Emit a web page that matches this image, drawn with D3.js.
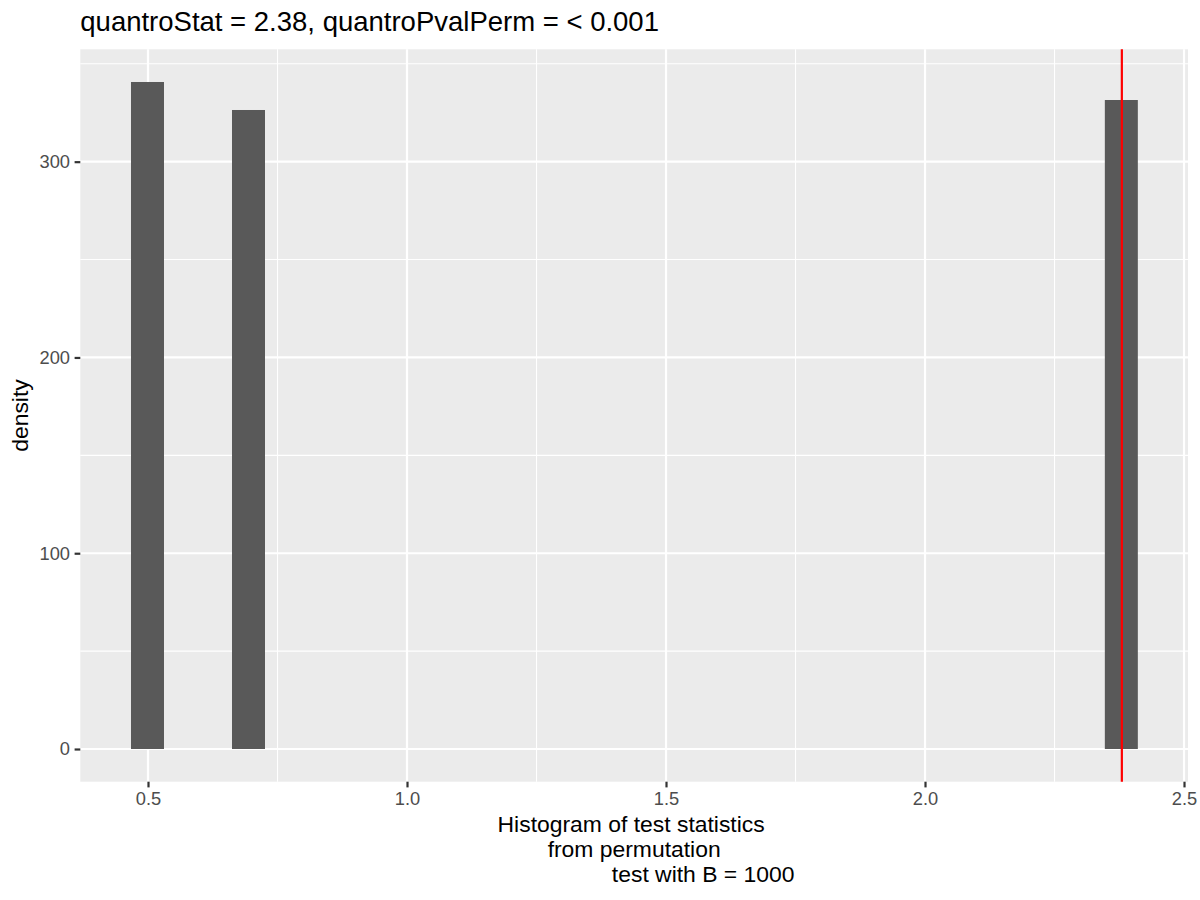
<!DOCTYPE html>
<html>
<head>
<meta charset="utf-8">
<script src="https://cdn.jsdelivr.net/npm/d3@7"></script>
<style>
  html, body { margin: 0; padding: 0; background: #fff; }
  svg { display: block; font-family: "Liberation Sans", Arial, sans-serif; }
</style>
</head>
<body>
<svg id="chart" width="1200" height="900"></svg>
<script>
// ---- data ----
const binCenters = [0.499, 0.694, 2.379];
const densities = [340.7, 326.4, 331.5];
const binWidth = 0.0637;
const quantroStat = 2.38;
const xTicks = [0.5, 1.0, 1.5, 2.0, 2.5];
const xMinorTicks = [0.75, 1.25, 1.75, 2.25];
const yTicks = [0, 100, 200, 300];
const yMinorTicks = [50, 150, 250, 350];
const titleText = "quantroStat = 2.38, quantroPvalPerm = < 0.001";
const xTitleLines = ["Histogram of test statistics", "from permutation", "test with B = 1000"];
const yTitle = "density";

// ---- layout ----
const svg = d3.select("#chart");
const panel = { left: 80.3, right: 1188, top: 49.3, bottom: 781.7 };

const x = d3.scaleLinear().domain([0.3693, 2.5077]).range([panel.left, panel.right]);
const y = d3.scaleLinear().domain([-16.7, 357.4]).range([panel.bottom, panel.top]);

// panel background
svg.append("rect")
  .attr("x", panel.left).attr("y", panel.top)
  .attr("width", panel.right - panel.left).attr("height", panel.bottom - panel.top)
  .attr("fill", "#EBEBEB");

// minor grid
svg.append("g").selectAll("line").data(xMinorTicks).join("line")
  .attr("x1", d => x(d)).attr("x2", d => x(d))
  .attr("y1", panel.top).attr("y2", panel.bottom)
  .attr("stroke", "#fff").attr("stroke-width", 1.1);
svg.append("g").selectAll("line").data(yMinorTicks).join("line")
  .attr("y1", d => y(d)).attr("y2", d => y(d))
  .attr("x1", panel.left).attr("x2", panel.right)
  .attr("stroke", "#fff").attr("stroke-width", 1.1);
// major grid
svg.append("g").selectAll("line").data(xTicks).join("line")
  .attr("x1", d => x(d)).attr("x2", d => x(d))
  .attr("y1", panel.top).attr("y2", panel.bottom)
  .attr("stroke", "#fff").attr("stroke-width", 2.2);
svg.append("g").selectAll("line").data(yTicks).join("line")
  .attr("y1", d => y(d)).attr("y2", d => y(d))
  .attr("x1", panel.left).attr("x2", panel.right)
  .attr("stroke", "#fff").attr("stroke-width", 2.2);

// bars
svg.append("g").selectAll("rect").data(binCenters).join("rect")
  .attr("x", d => x(d - binWidth / 2))
  .attr("width", d => x(d + binWidth / 2) - x(d - binWidth / 2))
  .attr("y", (d, i) => y(densities[i]))
  .attr("height", (d, i) => y(0) - y(densities[i]))
  .attr("fill", "#595959");

// vline
svg.append("line")
  .attr("x1", x(quantroStat)).attr("x2", x(quantroStat))
  .attr("y1", panel.top).attr("y2", panel.bottom)
  .attr("stroke", "#FF0000").attr("stroke-width", 2.2);

// axes
const xAxis = d3.axisBottom(x).tickValues(xTicks).tickFormat(d3.format(".1f"))
  .tickSizeInner(5.7).tickSizeOuter(0).tickPadding(4.6);
const gx = svg.append("g").attr("transform", `translate(0,${panel.bottom})`).call(xAxis);
gx.select(".domain").remove();
gx.selectAll(".tick line").attr("stroke", "#333333").attr("stroke-width", 2.2);
gx.selectAll(".tick text").attr("fill", "#4D4D4D").attr("font-size", 18.3)
  .attr("font-family", "Liberation Sans, Arial, sans-serif");

const yAxis = d3.axisLeft(y).tickValues(yTicks).tickFormat(d3.format("d"))
  .tickSizeInner(5.7).tickSizeOuter(0).tickPadding(4.6);
const gy = svg.append("g").attr("transform", `translate(${panel.left},0)`).call(yAxis);
gy.select(".domain").remove();
gy.selectAll(".tick line").attr("stroke", "#333333").attr("stroke-width", 2.2);
gy.selectAll(".tick text").attr("fill", "#4D4D4D").attr("font-size", 18.3)
  .attr("font-family", "Liberation Sans, Arial, sans-serif");

// title
svg.append("text")
  .attr("x", panel.left).attr("y", 30.5)
  .attr("font-size", 27.5).attr("fill", "#000")
  .text(titleText);

// x axis title (three lines)
const xCenter = (panel.left + panel.right) / 2;
const lineOffsets = [-3, 0, 69];
svg.append("g").selectAll("text").data(xTitleLines).join("text")
  .attr("x", (d, i) => xCenter + lineOffsets[i])
  .attr("y", (d, i) => 831.7 + i * 25.2)
  .attr("text-anchor", "middle")
  .attr("font-size", 22.9).attr("fill", "#000")
  .text(d => d);

// y axis title
svg.append("text")
  .attr("transform", `translate(28,${(panel.top + panel.bottom) / 2}) rotate(-90)`)
  .attr("text-anchor", "middle")
  .attr("font-size", 22.9).attr("fill", "#000")
  .text(yTitle);
</script>
</body>
</html>
